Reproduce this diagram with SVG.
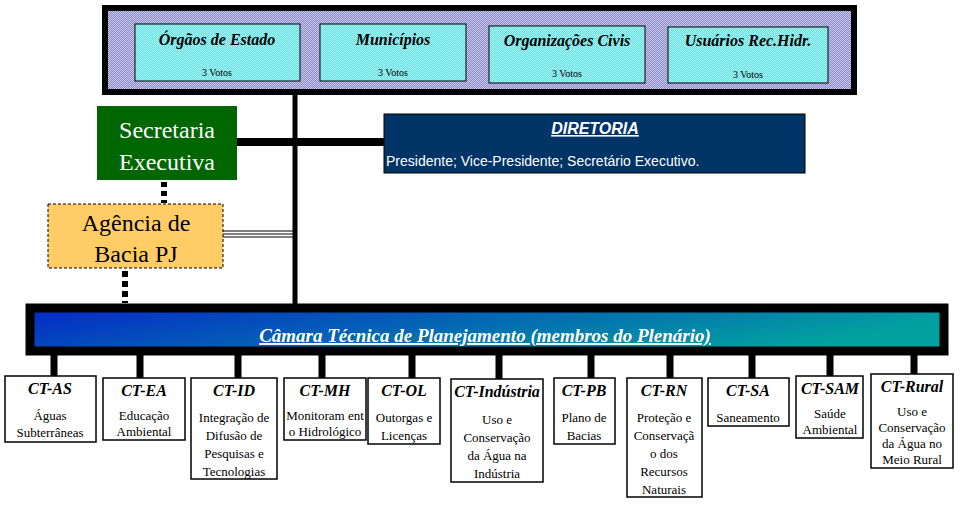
<svg xmlns="http://www.w3.org/2000/svg" width="960" height="506" viewBox="0 0 960 506">
<defs>
<pattern id="hatch" width="2" height="2" patternUnits="userSpaceOnUse"><rect width="2" height="2" fill="#8a8ac8"/><rect width="1" height="1" fill="#c8c8e8"/><rect x="1" y="1" width="1" height="1" fill="#c8c8e8"/></pattern>
<pattern id="hatch2" width="2" height="2" patternUnits="userSpaceOnUse"><rect width="2" height="2" fill="#66e0e0"/><rect width="1" height="1" fill="#a8f4f4"/><rect x="1" y="1" width="1" height="1" fill="#a8f4f4"/></pattern>
<linearGradient id="g" x1="0" y1="0" x2="1" y2="0.3"><stop offset="0" stop-color="#0528c8"/><stop offset="1" stop-color="#03a0a0"/></linearGradient>
</defs>
<style>
.s{font-family:"Liberation Serif",serif}
.h{font-family:"Liberation Serif",serif;font-style:italic;font-weight:bold;font-size:16px;text-anchor:middle}
.b{font-family:"Liberation Serif",serif;font-size:13px;text-anchor:middle}
.ct{fill:#fff;stroke:#000;stroke-width:1.5}
.in{fill:url(#hatch2);stroke:#000;stroke-width:1}
</style>
<rect width="960" height="506" fill="#fff"/>
<g id="connectors" stroke="#000">
<line x1="295" y1="95" x2="295" y2="305" stroke-width="5"/>
<line x1="237" y1="142" x2="386" y2="142" stroke-width="8"/>
<line x1="164" y1="182" x2="164" y2="203" stroke-width="6" stroke-dasharray="5,4"/>
<line x1="125" y1="271" x2="125" y2="303" stroke-width="6" stroke-dasharray="6,4"/>
<line x1="223" y1="231" x2="293" y2="231" stroke-width="1.2"/>
<line x1="223" y1="234" x2="293" y2="234" stroke-width="1.2"/>
<line x1="223" y1="237" x2="293" y2="237" stroke-width="1.2"/>
<g stroke-width="7">
<line x1="54" y1="355" x2="54" y2="377"/><line x1="140" y1="355" x2="140" y2="378"/><line x1="238" y1="355" x2="238" y2="378"/><line x1="322" y1="355" x2="322" y2="378"/><line x1="412" y1="355" x2="412" y2="378"/><line x1="499" y1="355" x2="499" y2="379"/><line x1="591" y1="355" x2="591" y2="378"/><line x1="670" y1="355" x2="670" y2="378"/><line x1="752" y1="355" x2="752" y2="378"/><line x1="830" y1="355" x2="830" y2="376"/><line x1="914" y1="355" x2="914" y2="374"/>
</g>
</g>
<g id="plenario">
<rect x="105" y="8" width="749" height="84" fill="url(#hatch)" stroke="#000" stroke-width="6"/>
</g>
<g id="orgaos"><rect class="in" x="135" y="24" width="165" height="57"/><text class="h" x="217" y="45">Órgãos de Estado</text><text class="s" x="217" y="76" font-size="10" text-anchor="middle">3 Votos</text></g>
<g id="municipios"><rect class="in" x="320" y="24" width="146" height="57"/><text class="h" x="393" y="45">Municípios</text><text class="s" x="393" y="76" font-size="10" text-anchor="middle">3 Votos</text></g>
<g id="organizacoes"><rect class="in" x="489" y="26" width="156" height="57"/><text class="h" x="567" y="46">Organizações Civis</text><text class="s" x="567" y="77" font-size="10" text-anchor="middle">3 Votos</text></g>
<g id="usuarios"><rect class="in" x="668" y="27" width="160" height="56"/><text class="h" x="748" y="46">Usuários Rec.Hidr.</text><text class="s" x="748" y="78" font-size="10" text-anchor="middle">3 Votos</text></g>
<g id="secretaria"><rect x="97" y="106" width="140" height="74" fill="#006600"/><text class="s" x="167" y="138" font-size="24" fill="#fff" text-anchor="middle">Secretaria</text><text class="s" x="167" y="170" font-size="24" fill="#fff" text-anchor="middle">Executiva</text></g>
<g id="diretoria"><rect x="384" y="114" width="421" height="59" fill="#003366" stroke="#000"/><text x="595" y="134" font-family="Liberation Sans,sans-serif" font-size="16" font-weight="bold" font-style="italic" fill="#fff" text-anchor="middle" text-decoration="underline">DIRETORIA</text><text x="386" y="166" font-family="Liberation Sans,sans-serif" font-size="14" fill="#fff">Presidente; Vice-Presidente; Secretário Executivo.</text></g>
<g id="agencia"><rect x="48" y="204" width="175" height="64" fill="#ffcc66" stroke="#000" stroke-dasharray="3,2"/><text class="s" x="136" y="231" font-size="24" text-anchor="middle">Agência de</text><text class="s" x="136" y="262" font-size="24" text-anchor="middle">Bacia PJ</text></g>
<g id="camara"><rect x="30" y="308" width="914" height="43" fill="url(#g)" stroke="#000" stroke-width="9"/><text x="485" y="342" font-family="Liberation Serif,serif" font-size="19" font-weight="bold" font-style="italic" fill="#fff" text-anchor="middle" text-decoration="underline">Câmara Técnica de Planejamento (membros do Plenário)</text></g>
<g id="ct-as"><rect class="ct" x="5" y="376" width="91" height="66"/><text class="h" x="50" y="394">CT-AS</text><text class="b" x="50" y="420">Águas</text><text class="b" x="50" y="437">Subterrâneas</text></g>
<g id="ct-ea"><rect class="ct" x="103" y="378" width="82" height="62"/><text class="h" x="144" y="396">CT-EA</text><text class="b" x="144" y="420" font-size="12">Educação</text><text class="b" x="144" y="436" font-size="12">Ambiental</text></g>
<g id="ct-id"><rect class="ct" x="191" y="378" width="86" height="101"/><text class="h" x="234" y="396">CT-ID</text><text class="b" x="234" y="422">Integração de</text><text class="b" x="234" y="440">Difusão de</text><text class="b" x="234" y="458">Pesquisas e</text><text class="b" x="234" y="476">Tecnologias</text></g>
<g id="ct-mh"><rect class="ct" x="284" y="378" width="82" height="62"/><text class="h" x="325" y="396">CT-MH</text><text class="b" x="325" y="420" font-size="11.5">Monitoram ent</text><text class="b" x="325" y="436" font-size="11.5">o Hidrológico</text></g>
<g id="ct-ol"><rect class="ct" x="368" y="378" width="72" height="66"/><text class="h" x="404" y="396">CT-OL</text><text class="b" x="404" y="422">Outorgas e</text><text class="b" x="404" y="440">Licenças</text></g>
<g id="ct-industria"><rect class="ct" x="451" y="379" width="92" height="103"/><text class="h" x="497" y="397">CT-Indústria</text><text class="b" x="497" y="424">Uso e</text><text class="b" x="497" y="442">Conservação</text><text class="b" x="497" y="460">da Água na</text><text class="b" x="497" y="478">Indústria</text></g>
<g id="ct-pb"><rect class="ct" x="554" y="378" width="61" height="66"/><text class="h" x="584" y="396">CT-PB</text><text class="b" x="584" y="422">Plano de</text><text class="b" x="584" y="440">Bacias</text></g>
<g id="ct-rn"><rect class="ct" x="627" y="378" width="75" height="119"/><text class="h" x="664" y="396">CT-RN</text><text class="b" x="664" y="422">Proteção e</text><text class="b" x="664" y="440">Conservaçã</text><text class="b" x="664" y="458">o dos</text><text class="b" x="664" y="476">Recursos</text><text class="b" x="664" y="494">Naturais</text></g>
<g id="ct-sa"><rect class="ct" x="708" y="378" width="81" height="48"/><text class="h" x="748" y="396">CT-SA</text><text class="b" x="748" y="422">Saneamento</text></g>
<g id="ct-sam"><rect class="ct" x="796" y="376" width="67" height="62"/><text class="h" x="830" y="394">CT-SAM</text><text class="b" x="830" y="418" font-size="12">Saúde</text><text class="b" x="830" y="434" font-size="12">Ambiental</text></g>
<g id="ct-rural"><rect class="ct" x="871" y="374" width="82" height="94"/><text class="h" x="912" y="392">CT-Rural</text><text class="b" x="912" y="416" font-size="12">Uso e</text><text class="b" x="912" y="432" font-size="12">Conservação</text><text class="b" x="912" y="448" font-size="12">da Água no</text><text class="b" x="912" y="464" font-size="12">Meio Rural</text></g>
</svg>
